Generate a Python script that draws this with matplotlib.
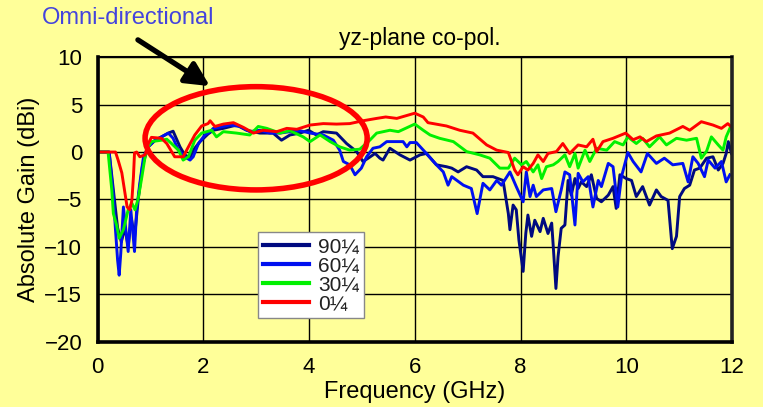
import numpy as np
import matplotlib
matplotlib.use('Agg')
import matplotlib.pyplot as plt
from matplotlib.patches import Ellipse

plt.rcParams['font.family'] = ['Liberation Sans', 'DejaVu Sans']

### data (GHz, dBi)

red_f = [0.0, 0.34, 0.39, 0.46, 0.51, 0.56, 0.61, 0.65, 0.68, 0.70, 0.74, 0.80, 0.90, 0.96, 1.02, 1.21,
         1.31, 1.46, 1.62, 1.72, 1.84, 1.97, 2.09, 2.13, 2.22, 2.38, 2.57, 2.76, 2.95, 3.13, 3.39, 3.58,
         3.77, 4.02, 4.27, 4.52, 4.77, 5.02, 5.28, 5.45, 5.66, 6.0, 6.16, 6.25, 6.6, 6.85, 7.1, 7.36,
         7.55, 7.77, 7.89, 7.95, 8.05, 8.14, 8.24, 8.33, 8.43, 8.52, 8.68, 8.8, 8.93, 9.09, 9.25, 9.37,
         9.44, 9.56, 9.75, 9.99, 10.13, 10.26, 10.38, 10.57, 10.82, 11.07, 11.2, 11.42, 11.64, 11.8,
         11.92, 11.98]
red_g = [0, 0, -0.85, -2.2, -4.0, -5.8, -6.1, -5.1, -2.6, -0.1, 0, -0.5, -0.3, 0.9, 1.55, 1.45,
         0.9, -0.5, -0.5, 0.55, 1.8, 2.75, 3.0, 3.3, 2.7, 2.95, 3.1, 2.6, 2.0, 2.3, 2.15, 2.5,
         2.4, 2.85, 3.0, 2.95, 3.0, 3.3, 3.55, 3.7, 3.55, 4.1, 3.7, 3.1, 2.75, 2.3, 2.0, 0.75,
         0.2, -0.05, -1.9, -2.4, -1.55, -1.9, -1.2, -0.3, -1.0, -0.15, 0.05, 0.9, -0.15, 0.75, 0.55, 1.35,
         0.05, 1.1, 1.45, 2.0, 1.3, 1.6, 1.1, 1.7, 2.0, 2.7, 2.3, 3.2, 2.85, 2.5,
         3.0, 2.7]

green_f = [0.0, 0.2, 0.27, 0.3, 0.36, 0.41, 0.49, 0.58, 0.65, 0.71, 0.77, 0.84, 0.9, 0.96, 1.02, 1.21,
           1.31, 1.4, 1.53, 1.62, 1.72, 1.84, 1.97, 2.16, 2.25, 2.38, 2.63, 2.88, 3.04, 3.2, 3.45, 3.64,
           3.89, 4.02, 4.21, 4.4, 4.58, 4.77, 4.96, 5.15, 5.28, 5.53, 5.69, 6.0, 6.16, 6.29, 6.47, 6.73,
           6.98, 7.23, 7.42, 7.61, 7.77, 7.89, 8.02, 8.11, 8.24, 8.33, 8.4, 8.49, 8.62, 8.71, 8.84, 8.93,
           9.03, 9.09, 9.22, 9.31, 9.44, 9.63, 9.78, 9.94, 10.03, 10.19, 10.31, 10.44, 10.63, 10.76, 10.95,
           11.14, 11.33, 11.42, 11.52, 11.61, 11.74, 11.83, 11.89, 11.96]
green_g = [0, 0, -4, -6.5, -7.7, -9.1, -8.2, -6.1, -5.4, -6.1, -4.9, -2.6, -0.5, 0.55, 1.1, 1.25,
           1.35, 0.9, 0.2, -0.85, -0.5, 1.25, 2.0, 2.3, 1.6, 2.15, 2.0, 1.8, 2.7, 2.5, 2.0, 2.25,
           1.6, 1.1, 1.8, 1.1, 0.55, 0.2, 0.3, 1.25, 2.0, 2.3, 2.15, 2.95, 2.3, 1.8, 1.45, 1.1,
           0.05, -0.3, -0.65, -1.7, -1.7, -0.65, -1.35, -1.0, -2.1, -1.35, -2.8, -1.55, -1.35, -1.0, -0.3, -1.55,
           -0.15, -1.7, 0.2, -1.0, 0.4, 0.2, 1.1, 0.75, 1.6, 0.9, 1.45, 0.55, 1.6, 0.75, 1.45,
           1.25, 1.45, -0.65, 0.1, 1.6, 0.75, 0.2, 1.6, 2.5]

blue_f = [0.0, 0.22, 0.3, 0.34, 0.38, 0.41, 0.44, 0.49, 0.53, 0.58,
          0.63, 0.7, 0.74, 0.8, 0.87, 0.96, 1.09, 1.21, 1.34, 1.43,
          1.53, 1.65, 1.75, 1.81, 1.91, 2.03, 2.13, 2.19, 2.38, 2.5,
          2.69, 2.88, 3.07, 3.26, 3.45, 3.64, 3.83, 4.02, 4.27, 4.46,
          4.58, 4.65, 4.77, 4.87, 4.99, 5.09, 5.21, 5.34, 5.47, 5.78,
          5.85, 5.91, 6.03, 6.22, 6.41, 6.54, 6.63, 6.7, 6.92, 7.07,
          7.18, 7.29, 7.42, 7.55, 7.64, 7.8, 7.92, 8.05, 8.11, 8.18,
          8.24, 8.3, 8.43, 8.59, 8.67, 8.77, 8.84, 8.93, 9.03, 9.09,
          9.18, 9.28, 9.37, 9.47, 9.53, 9.66, 9.75, 9.84, 9.91, 10.03,
          10.13, 10.28, 10.4, 10.57, 10.72, 10.88, 11.07, 11.17, 11.26, 11.36,
          11.48, 11.55, 11.68, 11.8, 11.89, 11.96]
blue_g = [0, 0, -4.7, -8.2, -11.4, -13.0, -10.7, -5.8, -7.9, -10.5,
          -6.1, -10.5, -6.1, -3.3, -0.5, 0.55, 1.25, 1.6, 2.0, 1.45,
          0.2, -0.5, -0.85, -0.5, 0.9, 1.8, 2.15, 2.5, 2.7, 2.85,
          2.7, 2.15, 2.3, 2.0, 2.0, 2.15, 2.25, 2.0, 1.8, 1.25,
          0.2, -1.0, -1.35, -2.4, -1.7, -0.5, 0.4, 0.55, 1.1, 1.1,
          0.55, 1.0, 1.0, -0.15, -1.35, -2.1, -3.5, -2.6, -3.5, -3.85,
          -6.5, -3.3, -4.0, -3.0, -3.5, -2.1, -3.65, -5.25, -2.1, -4.7,
          -3.5, -4.7, -4.0, -3.85, -6.3, -4.0, -2.1, -2.4, -7.7, -2.25,
          -3.15, -2.6, -5.8, -3.0, -3.65, -1.2, -1.55, -5.8, -2.6, -0.05,
          -1.0, -2.1, -0.15, -1.2, -0.65, -1.35, -1.2, -3.15, -0.5, -1.2,
          -2.6, -0.85, -1.7, -1.0, -3.15, -2.4]

navy_f = [0.0, 0.22, 0.3, 0.38, 0.45, 0.52, 0.58, 0.64, 0.7, 0.77,
          0.85, 0.95, 1.09, 1.21, 1.34, 1.43, 1.56, 1.65, 1.75, 1.81,
          1.94, 2.09, 2.19, 2.38, 2.63, 2.82, 3.07, 3.32, 3.48, 3.64,
          3.83, 3.99, 4.14, 4.27, 4.52, 4.71, 4.9, 5.02, 5.12, 5.25,
          5.34, 5.4, 5.53, 5.72, 5.91, 6.1, 6.22, 6.41, 6.6, 6.7,
          6.82, 6.98, 7.17, 7.29, 7.48, 7.67, 7.77, 7.8, 7.86, 7.92,
          7.97, 8.05, 8.1, 8.14, 8.21, 8.27, 8.37, 8.43, 8.52, 8.59,
          8.62, 8.67, 8.71, 8.77, 8.84, 8.9, 8.96, 9.03, 9.09, 9.15,
          9.25, 9.34, 9.44, 9.53, 9.66, 9.75, 9.81, 9.88, 10.0, 10.1,
          10.19, 10.31, 10.44, 10.57, 10.66, 10.79, 10.87, 10.95, 11.01, 11.1,
          11.2, 11.29, 11.39, 11.52, 11.64, 11.74, 11.83, 11.89, 11.93, 11.99]
navy_g = [0, 0, -4.0, -8.0, -9.5, -8.0, -10.0, -7.0, -9.0, -5.0,
          -1.5, 0.5, 1.25, 1.6, 2.0, 2.2, 0.55, -0.3, -0.6, 0.2,
          1.1, 1.9, 2.3, 2.5, 2.85, 2.3, 2.0, 2.0, 1.25, 1.8,
          2.0, 2.3, 1.8, 2.15, 2.0, 0.9, 0.05, -1.0, -0.65, -0.15,
          -0.65, -0.85, 0.4, -0.3, -0.85, -0.3, -0.15, -1.35, -1.55, -1.7,
          -2.1, -1.55, -1.9, -2.6, -2.6, -3.0, -6.5, -8.2, -5.6, -6.1,
          -9.3, -12.6, -8.6, -6.65, -8.9, -7.2, -8.4, -7.0, -8.6, -7.5,
          -10.0, -14.4, -11.05, -8.05, -7.7, -3.0, -4.55, -2.8, -3.85, -3.15,
          -3.65, -2.4, -4.9, -5.25, -4.55, -3.65, -5.95, -2.4, -2.8, -3.0,
          -4.7, -3.65, -5.6, -4.0, -4.7, -5.1, -10.2, -8.9, -4.7, -3.85,
          -3.5, -1.9, -1.7, -0.65, -0.5, -1.9, -1.2, -0.15, 1.1, -0.15]

labels = ['90\u00bc', '60\u00bc', '30\u00bc', '0\u00bc']
x_ticks = [0, 2, 4, 6, 8, 10, 12]
y_ticks = [-20, -15, -10, -5, 0, 5, 10]

bg = '#FFFF99'

fig = plt.figure(figsize=(7.63, 4.07), dpi=100, facecolor=bg)
ax = fig.add_axes([97.5 / 763, 1 - 341.5 / 407, (732 - 97.5) / 763, (341.5 - 57.3) / 407])
ax.set_facecolor(bg)

# curves, red drawn last so it sits on top
ax.plot(navy_f, navy_g, color='#000A80', lw=2.1, label=labels[0])
ax.plot(blue_f, blue_g, color='#0010F0', lw=2.1, label=labels[1])
ax.plot(green_f, green_g, color='#00F000', lw=2.1, label=labels[2])
ax.plot(red_f, red_g, color='#FF0000', lw=2.1, label=labels[3])

# highlight ellipse + arrow
ax.add_patch(Ellipse((3.0, 1.45), 4.2, 10.9, fill=False, edgecolor='#FF0000', lw=4, zorder=5))
ax.annotate('', xy=(2.17, 6.8), xytext=(0.72, 12.0), annotation_clip=False,
            arrowprops=dict(arrowstyle='-|>', color='black', lw=3.8, mutation_scale=36))

ax.set_xlim(0, 12)
ax.set_ylim(-20, 10)
ax.set_xticks(x_ticks)
ax.set_yticks(y_ticks)
ax.tick_params(length=0, labelsize=16, pad=11)
ax.grid(True, color='black', lw=1.0)
ax.set_axisbelow(True)

for side in ['left', 'bottom', 'right']:
  ax.spines[side].set_linewidth(2.6)
ax.spines['right'].set_color('#222222')
ax.spines['top'].set_linewidth(1.5)

ax.set_xlabel('Frequency (GHz)', fontsize=17, labelpad=2)
ax.set_ylabel('Absolute Gain (dBi)', fontsize=17, labelpad=3)

fig.text(420 / 763, 1 - 38 / 407, 'yz-plane co-pol.', fontsize=16.5, ha='center', va='center')
fig.text(42 / 763, 1 - 18 / 407, 'Omni-directional', fontsize=17, color='#4444DD',
         ha='left', va='center')

leg = ax.legend(loc='upper left', bbox_to_anchor=(0.253, 0.385), borderaxespad=0,
                fontsize=15, fancybox=False, framealpha=1, edgecolor='#888888',
                handlelength=2.2, handletextpad=0.45, labelspacing=0.0, borderpad=0.25)
leg.get_frame().set_linewidth(1.0)
for line in leg.get_lines():
  line.set_linewidth(3)
for t in leg.get_texts():
  t.set_color('#222222')
leg.set_zorder(10)

plt.savefig('out.png', dpi=100, facecolor=bg)
